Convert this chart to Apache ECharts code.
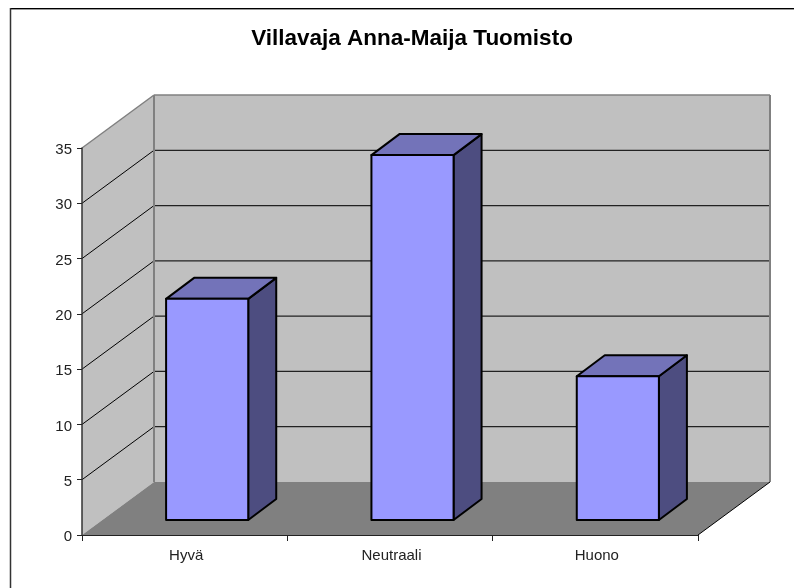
<!DOCTYPE html>
<html>
<head>
<meta charset="utf-8">
<style>
html, body { margin: 0; padding: 0; background: #fff; }
#chart { width: 794px; height: 588px; }
</style>
<script src="https://cdn.jsdelivr.net/npm/echarts@6/dist/echarts.min.js"></script>
</head>
<body>
<div id="chart"></div>
<script>
var categories = ['Hyvä', 'Neutraali', 'Huono']
var values = [20, 33, 13]
var yTicks = [0, 5, 10, 15, 20, 25, 30, 35]

// depth of the fake 3d box, in px
var depthX = 72
var depthY = 53
var font = '"Liberation Sans", Arial, sans-serif'

function line (x1, y1, x2, y2, color, width) {
  return {
    type: 'line',
    shape: { x1: x1, y1: y1, x2: x2, y2: y2 },
    style: { stroke: color, lineWidth: width }
  }
}

function poly (points, fill, stroke, width) {
  return {
    type: 'polygon',
    shape: { points: points },
    style: { fill: fill, stroke: stroke || null, lineWidth: width || 0, lineJoin: 'round' }
  }
}

function renderBox (params, api) {
  var g = params.coordSys
  var l = g.x
  var r = g.x + g.width
  var b = g.y + g.height
  var t = g.y
  var children = [
    // side wall, back wall, floor
    poly([[l, t], [l + depthX, t - depthY], [l + depthX, b - depthY], [l, b]], '#c0c0c0'),
    poly([[l + depthX, t - depthY], [r + depthX, t - depthY], [r + depthX, b - depthY], [l + depthX, b - depthY]], '#c0c0c0'),
    poly([[l, b], [l + depthX, b - depthY], [r + depthX, b - depthY], [r, b]], '#808080')
  ]
  yTicks.forEach(function (tick) {
    if (tick === 0 || tick === 35) return
    var y = api.coord([0, tick])[1]
    children.push(line(l, y, l + depthX, y - depthY, '#000', 1))
    children.push(line(l + depthX, y - depthY, r + depthX, y - depthY, '#222', 1.2))
  })
  children.push(line(l, t, l + depthX, t - depthY, '#808080', 1.5))
  children.push(line(l + depthX, t - depthY, r + depthX, t - depthY, '#808080', 1.5))
  children.push(line(l + depthX, t - depthY, l + depthX, b - depthY, '#808080', 2))
  children.push(line(r + depthX, t - depthY, r + depthX, b - depthY, '#808080', 2))
  children.push(line(r, b, r + depthX, b - depthY, '#000', 1))
  return { type: 'group', children: children }
}

function renderBar (params, api) {
  var idx = api.value(0)
  var top = api.coord([idx, api.value(1)])
  var base = api.coord([idx, 0])
  var band = api.size([1, 0])[0]
  var half = band * 0.2
  // the bar stands a bit inside the floor
  var x0 = top[0] - half + 22.5
  var x1 = top[0] + half + 22.5
  var y0 = top[1] - 15
  var y1 = base[1] - 15
  var dx = 28
  var dy = 21
  return {
    type: 'group',
    children: [
      poly([[x1, y0], [x1 + dx, y0 - dy], [x1 + dx, y1 - dy], [x1, y1]], '#4d4d80', '#000', 2),
      poly([[x0, y0], [x0 + dx, y0 - dy], [x1 + dx, y0 - dy], [x1, y0]], '#7373b9', '#000', 2),
      poly([[x0, y0], [x1, y0], [x1, y1], [x0, y1]], '#9999ff', '#000', 2)
    ]
  }
}

var chart = echarts.init(document.getElementById('chart'))
chart.setOption({
  animation: false,
  backgroundColor: '#fff',
  title: {
    text: 'Villavaja Anna-Maija Tuomisto',
    left: 407,
    top: 22,
    textAlign: 'center',
    textStyle: { fontFamily: font, fontSize: 22.5, fontWeight: 'bold', color: '#000' }
  },
  grid: { left: 82, right: 96, top: 148, bottom: 53 },
  xAxis: {
    type: 'category',
    data: categories,
    z: 10,
    axisLine: { lineStyle: { color: '#222', width: 1 } },
    axisTick: { show: true, alignWithLabel: false, length: 6, lineStyle: { color: '#222', width: 1 } },
    axisLabel: { fontFamily: font, fontSize: 15, color: '#222', margin: 13, padding: [0, 0, 0, 3] },
    splitLine: { show: false }
  },
  yAxis: {
    type: 'value',
    min: 0,
    max: 35,
    interval: 5,
    z: 10,
    axisLine: { show: true, lineStyle: { color: '#333', width: 1.5 } },
    axisTick: { show: true, length: 5, lineStyle: { color: '#222', width: 1 } },
    axisLabel: { fontFamily: font, fontSize: 15, color: '#222', margin: 10, verticalAlign: 'top', lineHeight: 4 },
    splitLine: { show: false }
  },
  graphic: [
    { type: 'line', shape: { x1: 10, y1: 8.5, x2: 794, y2: 8.5 }, style: { stroke: '#000', lineWidth: 1 } },
    { type: 'line', shape: { x1: 10, y1: 9.5, x2: 794, y2: 9.5 }, style: { stroke: '#999', lineWidth: 1 } },
    { type: 'line', shape: { x1: 10.5, y1: 8, x2: 10.5, y2: 588 }, style: { stroke: '#333', lineWidth: 1.5 } }
  ],
  series: [
    {
      type: 'custom',
      z: 1,
      silent: true,
      clip: false,
      data: [[0, 0]],
      renderItem: renderBox
    },
    {
      type: 'custom',
      z: 3,
      clip: false,
      data: values.map(function (v, i) { return [i, v] }),
      renderItem: renderBar
    }
  ]
})
</script>
</body>
</html>
